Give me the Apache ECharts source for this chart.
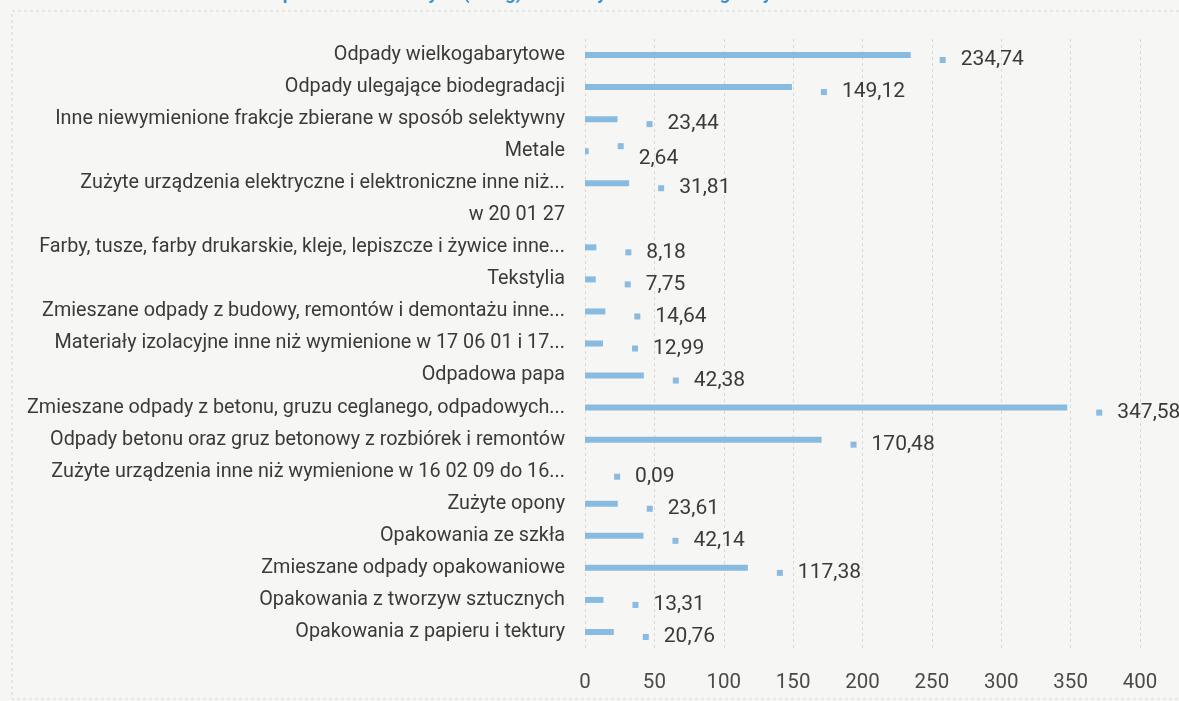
<!DOCTYPE html>
<html>
<head>
<meta charset="utf-8">
<style>
html,body{margin:0;padding:0;background:#f6f6f4;}
#chart{width:1179px;height:701px;}
</style>
<script src="https://cdn.jsdelivr.net/npm/echarts@6/dist/echarts.min.js"></script>
</head>
<body>
<div id="chart"></div>
<script>
const titleText = 'Masa odpadów komunalnych (w Mg) odebranych z obszaru gminy Sierakowice w 2017r.';
const categories = [
  'Odpady wielkogabarytowe',
  'Odpady ulegające biodegradacji',
  'Inne niewymienione frakcje zbierane w sposób selektywny',
  'Metale',
  'Zużyte urządzenia elektryczne i elektroniczne inne niż...',
  'w 20 01 27',
  'Farby, tusze, farby drukarskie, kleje, lepiszcze i żywice inne...',
  'Tekstylia',
  'Zmieszane odpady z budowy, remontów i demontażu inne...',
  'Materiały izolacyjne inne niż wymienione w 17 06 01 i 17...',
  'Odpadowa papa',
  'Zmieszane odpady z betonu, gruzu ceglanego, odpadowych...',
  'Odpady betonu oraz gruz betonowy z rozbiórek i remontów',
  'Zużyte urządzenia inne niż wymienione w 16 02 09 do 16...',
  'Zużyte opony',
  'Opakowania ze szkła',
  'Zmieszane odpady opakowaniowe',
  'Opakowania z tworzyw sztucznych',
  'Opakowania z papieru i tektury'
];
const values = [
  234.74, 149.12, 23.44, 2.64, 31.81, null, 8.18, 7.75, 14.64, 12.99,
  42.38, 347.58, 170.48, 0.09, 23.61, 42.14, 117.38, 13.31, 20.76
];
const xTicks = { min: 0, max: 400, interval: 50 };
const wrappedLabelCategories = ['Metale'];

const barColor = '#89badf';
const chart = echarts.init(document.getElementById('chart'), null, { renderer: 'canvas' });
const fmt = v => v.toFixed(2).replace('.', ',');

chart.setOption({
  backgroundColor: '#f6f6f4',
  animation: false,
  title: {
    text: titleText,
    left: 205,
    top: -20,
    textStyle: { color: '#3b94cf', fontSize: 19, fontWeight: 'bold', fontFamily: 'Roboto' }
  },
  graphic: [
    { type: 'polyline', silent: true,
      shape: { points: [[1179, 11], [12, 11], [12, 699], [1179, 699]] },
      style: { stroke: '#d6d6d6', lineWidth: 1, lineDash: [3, 3], fill: null } }
  ],
  grid: { left: 585, right: 39, top: 39, bottom: 53, containLabel: false },
  xAxis: {
    type: 'value',
    min: xTicks.min, max: xTicks.max, interval: xTicks.interval,
    axisLine: { show: false },
    axisTick: { show: false },
    splitLine: { show: true, lineStyle: { color: '#d9d9d9', type: [3, 3], width: 1 } },
    axisLabel: { color: '#4a4a4a', fontSize: 20.5, margin: 24, fontFamily: 'Roboto' }
  },
  yAxis: {
    type: 'category',
    data: categories,
    inverse: true,
    axisLine: { show: false },
    axisTick: { show: false },
    splitLine: { show: false },
    axisLabel: { color: '#3a3a3a', fontSize: 19.8, margin: 20, padding: [0, 0, 7, 0], fontFamily: 'Roboto' }
  },
  series: [{
    type: 'bar',
    data: values,
    barWidth: 6,
    itemStyle: { color: barColor },
    label: {
      show: true,
      position: 'right',
      distance: 29,
      offset: [0, 5],
      formatter: p => {
        if (p.value == null) return '';
        if (wrappedLabelCategories.includes(p.name)) return '{m|}\n{w|' + fmt(p.value) + '}';
        return '{m|}{v|' + fmt(p.value) + '}';
      },
      rich: {
        m: { width: 6, height: 6, backgroundColor: barColor },
        v: { color: '#3a3a3a', fontSize: 21, padding: [0, 0, 0, 15], fontFamily: 'Roboto' },
        w: { color: '#3a3a3a', fontSize: 21, padding: [0, 0, 0, 21], fontFamily: 'Roboto', lineHeight: 20 }
      }
    }
  }]
});
</script>
</body>
</html>
